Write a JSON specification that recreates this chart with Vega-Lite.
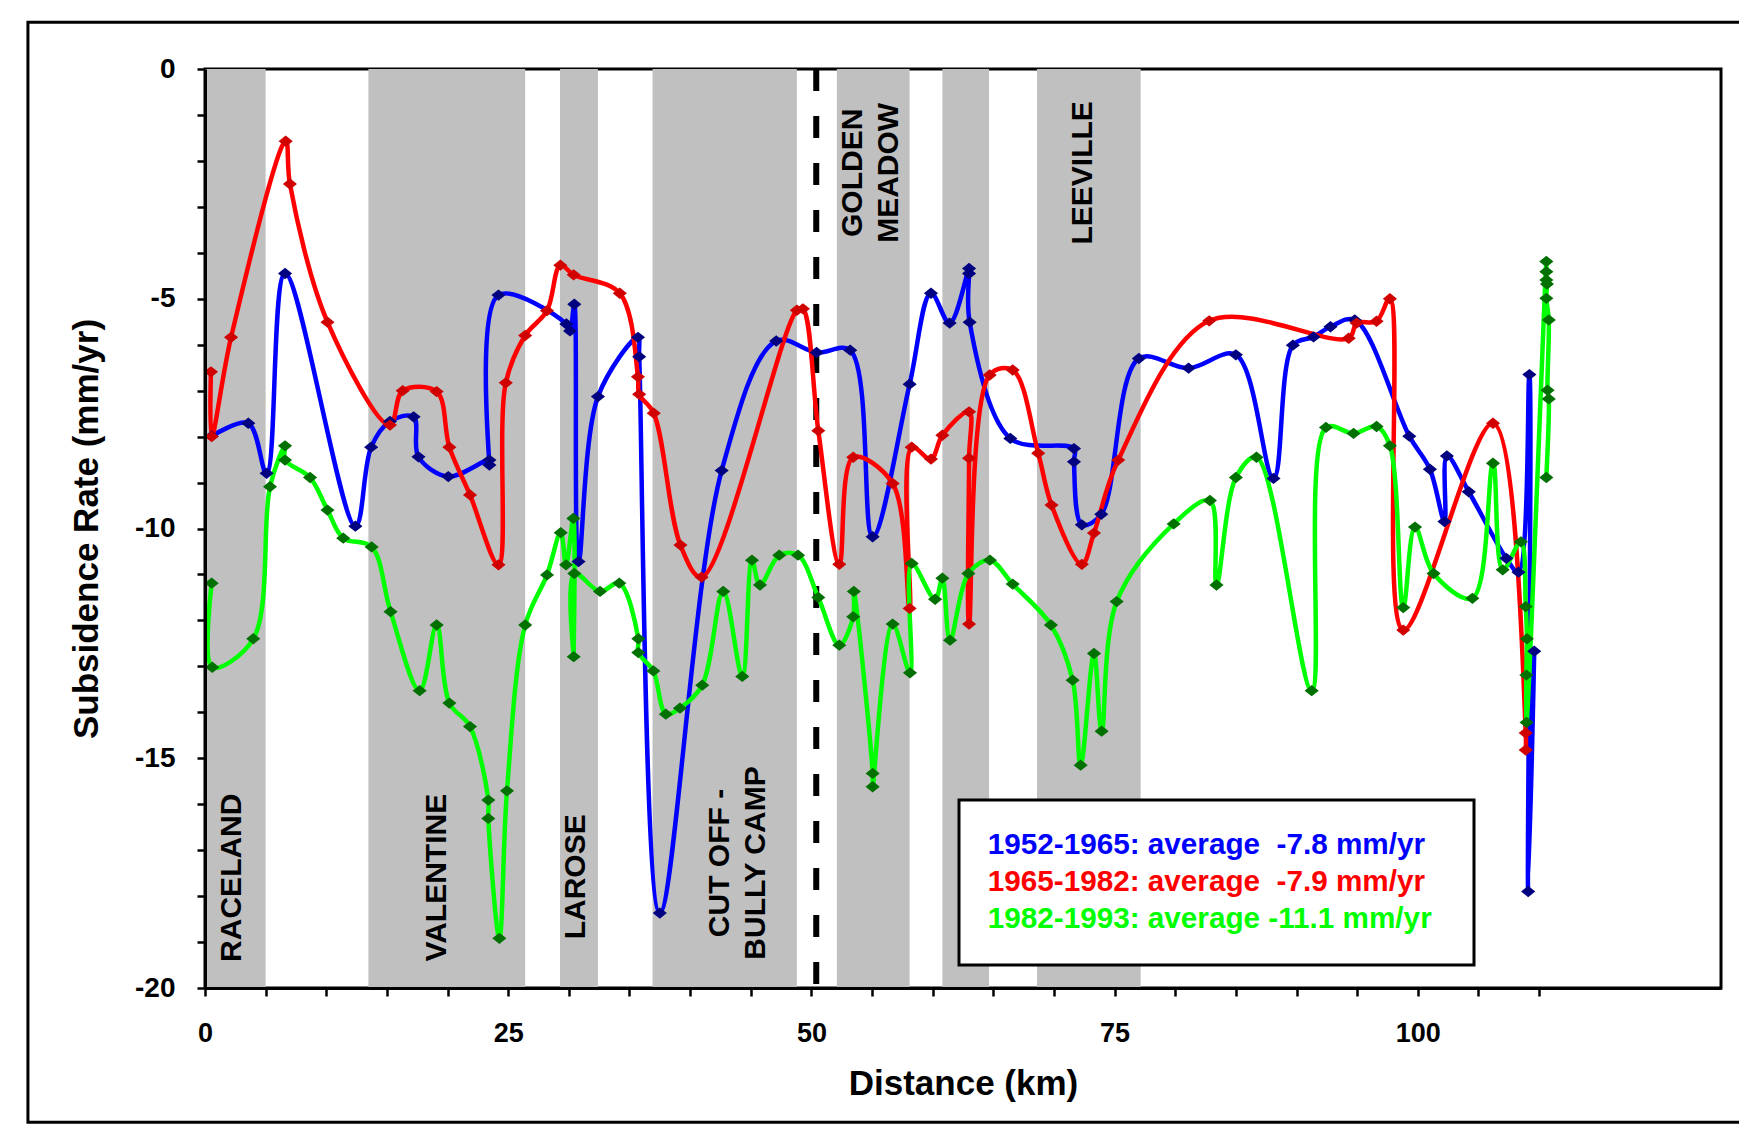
{
  "$schema": "https://vega.github.io/schema/vega-lite/v6.json",
  "width": 1516,
  "height": 919,
  "autosize": {"type": "none"},
  "padding": {"left": 205, "top": 69, "right": 18, "bottom": 140},
  "background": "white",
  "config": {"view": {"stroke": "black", "strokeWidth": 3}, "font": "Liberation Sans"},
  "datasets": {
    "bands": [
      {"start": 0, "end": 5.0},
      {"start": 13.47, "end": 26.4},
      {"start": 29.27, "end": 32.4},
      {"start": 36.9, "end": 48.8},
      {"start": 52.1, "end": 58.1},
      {"start": 60.8, "end": 64.65},
      {"start": 68.6, "end": 77.15}
    ],
    "towns": [
      {"text": "RACELAND", "km": 2.23, "v": -17.6},
      {"text": "VALENTINE", "km": 19.13, "v": -17.6},
      {"text": "LAROSE", "km": 30.55, "v": -17.58},
      {"text": "CUT OFF -\nBULLY CAMP", "km": 42.45, "v": -17.28},
      {"text": "GOLDEN\nMEADOW", "km": 53.43, "v": -2.26},
      {"text": "LEEVILLE", "km": 72.39, "v": -2.26}
    ],
    "rates": [
      {"p": "1952-1965", "o": 1, "km": 0.55, "v": -7.99},
      {"p": "1952-1965", "o": 2, "km": 3.57, "v": -7.71},
      {"p": "1952-1965", "o": 3, "km": 5.08, "v": -8.8},
      {"p": "1952-1965", "o": 4, "km": 6.6, "v": -4.45},
      {"p": "1952-1965", "o": 5, "km": 12.4, "v": -9.95},
      {"p": "1952-1965", "o": 6, "km": 13.7, "v": -8.23},
      {"p": "1952-1965", "o": 7, "km": 15.25, "v": -7.67},
      {"p": "1952-1965", "o": 8, "km": 17.2, "v": -7.57},
      {"p": "1952-1965", "o": 9, "km": 17.6, "v": -8.44},
      {"p": "1952-1965", "o": 10, "km": 20.06, "v": -8.87},
      {"p": "1952-1965", "o": 11, "km": 23.45, "v": -8.51},
      {"p": "1952-1965", "o": 12, "km": 23.45, "v": -8.62},
      {"p": "1952-1965", "o": 13, "km": 24.2, "v": -4.92},
      {"p": "1952-1965", "o": 14, "km": 29.8, "v": -5.55},
      {"p": "1952-1965", "o": 15, "km": 30.1, "v": -5.7},
      {"p": "1952-1965", "o": 16, "km": 30.45, "v": -5.12},
      {"p": "1952-1965", "o": 17, "km": 30.8, "v": -10.72},
      {"p": "1952-1965", "o": 18, "km": 32.4, "v": -7.13},
      {"p": "1952-1965", "o": 19, "km": 35.7, "v": -5.84},
      {"p": "1952-1965", "o": 20, "km": 35.8, "v": -6.26},
      {"p": "1952-1965", "o": 21, "km": 37.5, "v": -18.37},
      {"p": "1952-1965", "o": 22, "km": 42.6, "v": -8.74},
      {"p": "1952-1965", "o": 23, "km": 47.1, "v": -5.92},
      {"p": "1952-1965", "o": 24, "km": 50.43, "v": -6.17},
      {"p": "1952-1965", "o": 25, "km": 53.2, "v": -6.12},
      {"p": "1952-1965", "o": 26, "km": 55.05, "v": -10.18},
      {"p": "1952-1965", "o": 27, "km": 58.1, "v": -6.86},
      {"p": "1952-1965", "o": 28, "km": 59.86, "v": -4.88},
      {"p": "1952-1965", "o": 29, "km": 61.4, "v": -5.53},
      {"p": "1952-1965", "o": 30, "km": 63.0, "v": -4.34},
      {"p": "1952-1965", "o": 31, "km": 63.0, "v": -4.45},
      {"p": "1952-1965", "o": 32, "km": 63.05, "v": -5.51},
      {"p": "1952-1965", "o": 33, "km": 66.4, "v": -8.04},
      {"p": "1952-1965", "o": 34, "km": 71.65, "v": -8.26},
      {"p": "1952-1965", "o": 35, "km": 71.65, "v": -8.55},
      {"p": "1952-1965", "o": 36, "km": 72.3, "v": -9.92},
      {"p": "1952-1965", "o": 37, "km": 73.9, "v": -9.69},
      {"p": "1952-1965", "o": 38, "km": 77.0, "v": -6.3},
      {"p": "1952-1965", "o": 39, "km": 81.1, "v": -6.51},
      {"p": "1952-1965", "o": 40, "km": 85.0, "v": -6.22},
      {"p": "1952-1965", "o": 41, "km": 88.1, "v": -8.91},
      {"p": "1952-1965", "o": 42, "km": 89.7, "v": -6.01},
      {"p": "1952-1965", "o": 43, "km": 91.4, "v": -5.83},
      {"p": "1952-1965", "o": 44, "km": 92.8, "v": -5.61},
      {"p": "1952-1965", "o": 45, "km": 94.8, "v": -5.46},
      {"p": "1952-1965", "o": 46, "km": 99.3, "v": -7.99},
      {"p": "1952-1965", "o": 47, "km": 101.0, "v": -8.71},
      {"p": "1952-1965", "o": 48, "km": 102.2, "v": -9.85},
      {"p": "1952-1965", "o": 49, "km": 102.4, "v": -8.42},
      {"p": "1952-1965", "o": 50, "km": 104.2, "v": -9.2},
      {"p": "1952-1965", "o": 51, "km": 107.3, "v": -10.65},
      {"p": "1952-1965", "o": 52, "km": 108.3, "v": -10.95},
      {"p": "1952-1965", "o": 53, "km": 109.2, "v": -6.65},
      {"p": "1952-1965", "o": 54, "km": 109.1, "v": -17.9},
      {"p": "1952-1965", "o": 55, "km": 109.6, "v": -12.67},

      {"p": "1965-1982", "o": 1, "km": 0.49, "v": -6.59},
      {"p": "1965-1982", "o": 2, "km": 0.55, "v": -8.0},
      {"p": "1965-1982", "o": 3, "km": 2.15, "v": -5.84},
      {"p": "1965-1982", "o": 4, "km": 6.65, "v": -1.57},
      {"p": "1965-1982", "o": 5, "km": 7.0, "v": -2.5},
      {"p": "1965-1982", "o": 6, "km": 10.1, "v": -5.51},
      {"p": "1965-1982", "o": 7, "km": 15.25, "v": -7.75},
      {"p": "1965-1982", "o": 8, "km": 16.3, "v": -7.0},
      {"p": "1965-1982", "o": 9, "km": 19.1, "v": -7.02},
      {"p": "1965-1982", "o": 10, "km": 20.15, "v": -8.23},
      {"p": "1965-1982", "o": 11, "km": 21.85, "v": -9.27},
      {"p": "1965-1982", "o": 12, "km": 24.2, "v": -10.79},
      {"p": "1965-1982", "o": 13, "km": 24.8, "v": -6.83},
      {"p": "1965-1982", "o": 14, "km": 26.4, "v": -5.8},
      {"p": "1965-1982", "o": 15, "km": 28.2, "v": -5.26},
      {"p": "1965-1982", "o": 16, "km": 29.3, "v": -4.27},
      {"p": "1965-1982", "o": 17, "km": 30.4, "v": -4.48},
      {"p": "1965-1982", "o": 18, "km": 34.2, "v": -4.88},
      {"p": "1965-1982", "o": 19, "km": 35.7, "v": -6.7},
      {"p": "1965-1982", "o": 20, "km": 35.8, "v": -7.08},
      {"p": "1965-1982", "o": 21, "km": 37.0, "v": -7.49},
      {"p": "1965-1982", "o": 22, "km": 39.2, "v": -10.36},
      {"p": "1965-1982", "o": 23, "km": 40.95, "v": -11.06},
      {"p": "1965-1982", "o": 24, "km": 48.8, "v": -5.25},
      {"p": "1965-1982", "o": 25, "km": 49.3, "v": -5.22},
      {"p": "1965-1982", "o": 26, "km": 50.57, "v": -7.87},
      {"p": "1965-1982", "o": 27, "km": 52.3, "v": -10.78},
      {"p": "1965-1982", "o": 28, "km": 53.45, "v": -8.45},
      {"p": "1965-1982", "o": 29, "km": 56.7, "v": -9.02},
      {"p": "1965-1982", "o": 30, "km": 58.1, "v": -11.74},
      {"p": "1965-1982", "o": 31, "km": 58.27, "v": -8.23},
      {"p": "1965-1982", "o": 32, "km": 59.86, "v": -8.49},
      {"p": "1965-1982", "o": 33, "km": 60.8, "v": -7.97},
      {"p": "1965-1982", "o": 34, "km": 63.0, "v": -7.46},
      {"p": "1965-1982", "o": 35, "km": 63.0, "v": -8.47},
      {"p": "1965-1982", "o": 36, "km": 63.0, "v": -12.08},
      {"p": "1965-1982", "o": 37, "km": 64.7, "v": -6.66},
      {"p": "1965-1982", "o": 38, "km": 66.6, "v": -6.55},
      {"p": "1965-1982", "o": 39, "km": 68.7, "v": -8.36},
      {"p": "1965-1982", "o": 40, "km": 69.8, "v": -9.49},
      {"p": "1965-1982", "o": 41, "km": 72.3, "v": -10.78},
      {"p": "1965-1982", "o": 42, "km": 73.3, "v": -10.1},
      {"p": "1965-1982", "o": 43, "km": 75.3, "v": -8.51},
      {"p": "1965-1982", "o": 44, "km": 82.8, "v": -5.48},
      {"p": "1965-1982", "o": 45, "km": 94.3, "v": -5.86},
      {"p": "1965-1982", "o": 46, "km": 94.96, "v": -5.53},
      {"p": "1965-1982", "o": 47, "km": 96.6, "v": -5.49},
      {"p": "1965-1982", "o": 48, "km": 97.7, "v": -5.0},
      {"p": "1965-1982", "o": 49, "km": 98.8, "v": -12.21},
      {"p": "1965-1982", "o": 50, "km": 106.2, "v": -7.71},
      {"p": "1965-1982", "o": 51, "km": 108.9, "v": -14.45},
      {"p": "1965-1982", "o": 52, "km": 108.9, "v": -14.82},

      {"p": "1982-1993", "o": 1, "km": 0.55, "v": -11.19},
      {"p": "1982-1993", "o": 2, "km": 0.6, "v": -13.02},
      {"p": "1982-1993", "o": 3, "km": 3.98, "v": -12.4},
      {"p": "1982-1993", "o": 4, "km": 5.36, "v": -9.09},
      {"p": "1982-1993", "o": 5, "km": 6.6, "v": -8.2},
      {"p": "1982-1993", "o": 6, "km": 6.6, "v": -8.51},
      {"p": "1982-1993", "o": 7, "km": 8.66, "v": -8.89},
      {"p": "1982-1993", "o": 8, "km": 10.1, "v": -9.6},
      {"p": "1982-1993", "o": 9, "km": 11.4, "v": -10.21},
      {"p": "1982-1993", "o": 10, "km": 13.74, "v": -10.4},
      {"p": "1982-1993", "o": 11, "km": 15.3, "v": -11.81},
      {"p": "1982-1993", "o": 12, "km": 17.7, "v": -13.53},
      {"p": "1982-1993", "o": 13, "km": 19.1, "v": -12.1},
      {"p": "1982-1993", "o": 14, "km": 20.15, "v": -13.8},
      {"p": "1982-1993", "o": 15, "km": 21.85, "v": -14.31},
      {"p": "1982-1993", "o": 16, "km": 23.36, "v": -15.91},
      {"p": "1982-1993", "o": 17, "km": 23.36, "v": -16.31},
      {"p": "1982-1993", "o": 18, "km": 24.27, "v": -18.92},
      {"p": "1982-1993", "o": 19, "km": 24.9, "v": -15.71},
      {"p": "1982-1993", "o": 20, "km": 26.4, "v": -12.1},
      {"p": "1982-1993", "o": 21, "km": 28.2, "v": -11.01},
      {"p": "1982-1993", "o": 22, "km": 29.33, "v": -10.09},
      {"p": "1982-1993", "o": 23, "km": 29.77, "v": -10.79},
      {"p": "1982-1993", "o": 24, "km": 30.37, "v": -9.78},
      {"p": "1982-1993", "o": 25, "km": 30.4, "v": -12.79},
      {"p": "1982-1993", "o": 26, "km": 30.45, "v": -10.98},
      {"p": "1982-1993", "o": 27, "km": 32.57, "v": -11.37},
      {"p": "1982-1993", "o": 28, "km": 34.16, "v": -11.19},
      {"p": "1982-1993", "o": 29, "km": 35.73, "v": -12.4},
      {"p": "1982-1993", "o": 30, "km": 35.73, "v": -12.7},
      {"p": "1982-1993", "o": 31, "km": 36.97, "v": -13.1},
      {"p": "1982-1993", "o": 32, "km": 38.0, "v": -14.04},
      {"p": "1982-1993", "o": 33, "km": 39.16, "v": -13.91},
      {"p": "1982-1993", "o": 34, "km": 41.0, "v": -13.41},
      {"p": "1982-1993", "o": 35, "km": 42.73, "v": -11.37},
      {"p": "1982-1993", "o": 36, "km": 44.3, "v": -13.22},
      {"p": "1982-1993", "o": 37, "km": 45.1, "v": -10.69},
      {"p": "1982-1993", "o": 38, "km": 45.76, "v": -11.23},
      {"p": "1982-1993", "o": 39, "km": 47.35, "v": -10.58},
      {"p": "1982-1993", "o": 40, "km": 48.9, "v": -10.58},
      {"p": "1982-1993", "o": 41, "km": 50.57, "v": -11.5},
      {"p": "1982-1993", "o": 42, "km": 52.3, "v": -12.54},
      {"p": "1982-1993", "o": 43, "km": 53.45, "v": -11.92},
      {"p": "1982-1993", "o": 44, "km": 53.5, "v": -11.37},
      {"p": "1982-1993", "o": 45, "km": 55.05, "v": -15.33},
      {"p": "1982-1993", "o": 46, "km": 55.05, "v": -15.62},
      {"p": "1982-1993", "o": 47, "km": 56.7, "v": -12.08},
      {"p": "1982-1993", "o": 48, "km": 58.13, "v": -13.14},
      {"p": "1982-1993", "o": 49, "km": 58.27, "v": -10.76},
      {"p": "1982-1993", "o": 50, "km": 60.2, "v": -11.54},
      {"p": "1982-1993", "o": 51, "km": 60.8, "v": -11.08},
      {"p": "1982-1993", "o": 52, "km": 61.43, "v": -12.43},
      {"p": "1982-1993", "o": 53, "km": 62.94, "v": -10.98},
      {"p": "1982-1993", "o": 54, "km": 64.72, "v": -10.69},
      {"p": "1982-1993", "o": 55, "km": 66.6, "v": -11.21},
      {"p": "1982-1993", "o": 56, "km": 69.75, "v": -12.1},
      {"p": "1982-1993", "o": 57, "km": 71.54, "v": -13.3},
      {"p": "1982-1993", "o": 58, "km": 72.2, "v": -15.15},
      {"p": "1982-1993", "o": 59, "km": 73.3, "v": -12.72},
      {"p": "1982-1993", "o": 60, "km": 73.93, "v": -14.41},
      {"p": "1982-1993", "o": 61, "km": 75.17, "v": -11.59},
      {"p": "1982-1993", "o": 62, "km": 79.87, "v": -9.9},
      {"p": "1982-1993", "o": 63, "km": 82.86, "v": -9.39},
      {"p": "1982-1993", "o": 64, "km": 83.4, "v": -11.23},
      {"p": "1982-1993", "o": 65, "km": 85.0, "v": -8.89},
      {"p": "1982-1993", "o": 66, "km": 86.7, "v": -8.45},
      {"p": "1982-1993", "o": 67, "km": 91.25, "v": -13.53},
      {"p": "1982-1993", "o": 68, "km": 92.43, "v": -7.8},
      {"p": "1982-1993", "o": 69, "km": 94.7, "v": -7.93},
      {"p": "1982-1993", "o": 70, "km": 96.6, "v": -7.78},
      {"p": "1982-1993", "o": 71, "km": 97.7, "v": -8.2},
      {"p": "1982-1993", "o": 72, "km": 98.8, "v": -11.72},
      {"p": "1982-1993", "o": 73, "km": 99.77, "v": -9.97},
      {"p": "1982-1993", "o": 74, "km": 101.3, "v": -10.98},
      {"p": "1982-1993", "o": 75, "km": 104.5, "v": -11.52},
      {"p": "1982-1993", "o": 76, "km": 106.2, "v": -8.58},
      {"p": "1982-1993", "o": 77, "km": 107.0, "v": -10.9},
      {"p": "1982-1993", "o": 78, "km": 108.5, "v": -10.29},
      {"p": "1982-1993", "o": 79, "km": 108.9, "v": -11.7},
      {"p": "1982-1993", "o": 80, "km": 109.0, "v": -12.4},
      {"p": "1982-1993", "o": 81, "km": 108.95, "v": -13.19},
      {"p": "1982-1993", "o": 82, "km": 108.97, "v": -14.22},
      {"p": "1982-1993", "o": 83, "km": 110.6, "v": -4.19},
      {"p": "1982-1993", "o": 84, "km": 110.6, "v": -4.41},
      {"p": "1982-1993", "o": 85, "km": 110.6, "v": -4.59},
      {"p": "1982-1993", "o": 86, "km": 110.65, "v": -4.68},
      {"p": "1982-1993", "o": 87, "km": 110.6, "v": -4.99},
      {"p": "1982-1993", "o": 88, "km": 110.8, "v": -5.46},
      {"p": "1982-1993", "o": 89, "km": 110.7, "v": -6.99},
      {"p": "1982-1993", "o": 90, "km": 110.8, "v": -7.18},
      {"p": "1982-1993", "o": 91, "km": 110.6, "v": -8.89}
    ]
  },
  "layer": [
    {
      "data": {"values": [{}]},
      "mark": {"type": "rect", "fillOpacity": 0, "stroke": "black", "strokeWidth": 3, "clip": false},
      "encoding": {
        "x": {"datum": -14.6, "type": "quantitative", "scale": {"domain": [0, 125], "nice": false, "zero": false}},
        "x2": {"datum": 135},
        "y": {"datum": 1.02, "type": "quantitative", "scale": {"domain": [-20, 0], "nice": false, "zero": false}},
        "y2": {"datum": -22.92}
      }
    },
    {
      "data": {"name": "bands"},
      "mark": {"type": "rect", "color": "#C0C0C0"},
      "encoding": {
        "x": {"field": "start", "type": "quantitative", "scale": {"domain": [0, 125], "nice": false, "zero": false}},
        "x2": {"field": "end"}
      }
    },
    {
      "data": {"values": [{}]},
      "mark": {"type": "rule", "color": "black", "strokeWidth": 6, "strokeDash": [22, 25]},
      "encoding": {
        "x": {"datum": 50.4, "type": "quantitative", "scale": {"domain": [0, 125], "nice": false, "zero": false}}
      }
    },
    {
      "data": {"name": "towns"},
      "mark": {"type": "text", "angle": 270, "align": "center", "baseline": "middle", "font": "Liberation Sans", "fontWeight": "bold", "fontSize": 30, "lineBreak": "\n", "lineHeight": 36, "color": "black"},
      "encoding": {
        "x": {"field": "km", "type": "quantitative", "scale": {"domain": [0, 125], "nice": false, "zero": false}},
        "y": {"field": "v", "type": "quantitative", "scale": {"domain": [-20, 0], "nice": false, "zero": false}},
        "text": {"field": "text"}
      }
    },
    {
      "data": {"name": "rates"},
      "mark": {"type": "line", "interpolate": "catmull-rom", "strokeWidth": 4.5},
      "encoding": {
        "x": {
          "field": "km", "type": "quantitative",
          "scale": {"domain": [0, 125], "nice": false, "zero": false},
          "axis": {
            "values": [0, 5, 10, 15, 20, 25, 30, 35, 40, 45, 50, 55, 60, 65, 70, 75, 80, 85, 90, 95, 100, 105, 110],
            "labelExpr": "datum.value % 25 === 0 ? '' + datum.value : ''",
            "labelOverlap": false, "labelFlush": false,
            "title": "Distance (km)", "grid": false,
            "domainColor": "black", "domainWidth": 3,
            "tickColor": "black", "tickWidth": 2.5, "tickSize": 8,
            "labelFont": "Liberation Sans", "labelFontWeight": "bold", "labelFontSize": 27, "labelColor": "black", "labelPadding": 24,
            "titleFont": "Liberation Sans", "titleFontWeight": "bold", "titleFontSize": 35, "titleColor": "black",
            "titleX": 758, "titleY": 95, "titleBaseline": "middle", "titleAlign": "center",
            "zindex": 1
          }
        },
        "y": {
          "field": "v", "type": "quantitative",
          "scale": {"domain": [-20, 0], "nice": false, "zero": false},
          "axis": {
            "values": [-20, -19, -18, -17, -16, -15, -14, -13, -12, -11, -10, -9, -8, -7, -6, -5, -4, -3, -2, -1, 0],
            "labelExpr": "datum.value % 5 === 0 ? '' + datum.value : ''",
            "labelOverlap": false, "labelFlush": false,
            "title": "Subsidence Rate (mm/yr)", "grid": false,
            "domainColor": "black", "domainWidth": 3,
            "tickColor": "black", "tickWidth": 2.5, "tickSize": 8,
            "labelFont": "Liberation Sans", "labelFontWeight": "bold", "labelFontSize": 28, "labelColor": "black", "labelPadding": 22,
            "titleFont": "Liberation Sans", "titleFontWeight": "bold", "titleFontSize": 35, "titleColor": "black",
            "titleX": -119, "titleY": 459.5, "titleAngle": 270, "titleBaseline": "middle", "titleAlign": "center",
            "zindex": 1
          }
        },
        "order": {"field": "o", "type": "quantitative"},
        "color": {
          "field": "p", "type": "nominal",
          "scale": {"domain": ["1952-1965", "1965-1982", "1982-1993"], "range": ["#0000FF", "#FF0000", "#00FF00"]},
          "legend": {
            "orient": "none", "legendX": 754, "legendY": 731,
            "title": "\u00a0", "titleOrient": "right", "titlePadding": 12, "titleFontSize": 29,
            "labelExpr": "datum.label == '1952-1965' ? '1952-1965: average\u00a0 -7.8 mm/yr' : datum.label == '1965-1982' ? '1965-1982: average\u00a0 -7.9 mm/yr' : '1982-1993: average -11.1 mm/yr'",
            "labelFont": "Liberation Sans", "labelFontWeight": "bold", "labelFontSize": 29.7, "labelLimit": 2000,
            "symbolSize": 0, "symbolOpacity": 0, "symbolStrokeWidth": 0, "labelOffset": -31,
            "rowPadding": 6.3, "padding": 30,
            "strokeColor": "black", "fillColor": "white",
            "encode": {
              "labels": {"update": {"fill": {"scale": "color", "field": "value"}}},
              "legend": {"update": {"strokeWidth": {"value": 3}}}
            }
          }
        }
      }
    },
    {
      "data": {"name": "rates"},
      "mark": {"type": "point", "filled": true, "shape": "M-1,0L0,-0.8L1,0L0,0.8Z", "size": 200, "opacity": 1, "strokeWidth": 0},
      "encoding": {
        "x": {"field": "km", "type": "quantitative", "scale": {"domain": [0, 125], "nice": false, "zero": false}},
        "y": {"field": "v", "type": "quantitative", "scale": {"domain": [-20, 0], "nice": false, "zero": false}},
        "fill": {
          "field": "p", "type": "nominal",
          "scale": {"domain": ["1952-1965", "1965-1982", "1982-1993"], "range": ["#000080", "#D00000", "#007000"]},
          "legend": null
        }
      }
    }
  ]
}
